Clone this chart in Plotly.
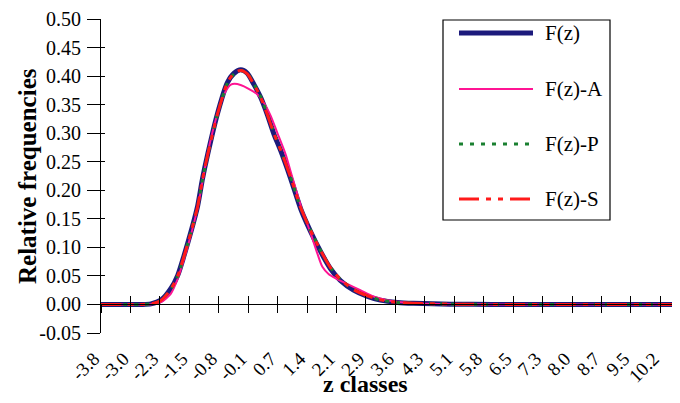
import plotly.graph_objects as go

# ---------------- data ----------------
TICK_LABELS = ["-3.8", "-3.0", "-2.3", "-1.5", "-0.8", "-0.1", "0.7", "1.4", "2.1", "2.9",
               "3.6", "4.3", "5.1", "5.8", "6.5", "7.3", "8.0", "8.7", "9.5", "10.2"]
Y_TICKS = [-0.05, 0.00, 0.05, 0.10, 0.15, 0.20, 0.25, 0.30, 0.35, 0.40, 0.45, 0.50]
Y_TICK_LABELS = ["-0.05", "0.00", "0.05", "0.10", "0.15", "0.20", "0.25", "0.30",
                 "0.35", "0.40", "0.45", "0.50"]

Z_F = [-3.8, -2.8, -2.55, -2.3, -2.05, -1.88, -1.72, -1.55, -1.38, -1.26, -1.13, -0.89,
       -0.64, -0.47, -0.30, -0.14, 0.03, 0.20, 0.36, 0.53, 0.70, 0.95, 1.20, 1.45, 1.70,
       1.94, 2.19, 2.52, 2.87, 3.19, 3.62, 4.02, 4.94, 6.0, 8.0, 10.7]
F = [0.0, 0.0, 0.001, 0.0075, 0.028, 0.051, 0.086, 0.127, 0.173, 0.22, 0.263, 0.333,
     0.388, 0.405, 0.411, 0.405, 0.385, 0.362, 0.333, 0.298, 0.269, 0.22, 0.167, 0.127, 0.092,
     0.063, 0.042, 0.025, 0.014, 0.0075, 0.0035, 0.002, 0.0005, 0.0, 0.0, 0.0]

Z_A = [-3.8, -2.8, -2.55, -2.3, -2.05, -1.88, -1.72, -1.55, -1.38, -1.26, -1.13, -0.89,
       -0.72, -0.55, -0.39, -0.14, 0.11, 0.28, 0.45, 0.61, 0.82, 0.95, 1.20, 1.45, 1.62,
       1.74, 1.90, 2.10, 2.36, 2.69, 3.02, 3.37, 4.02, 4.94, 6.0, 8.0, 10.7]
F_A = [0.0, 0.0, 0.0005, 0.004, 0.019, 0.045, 0.08, 0.122, 0.17, 0.215, 0.265, 0.333,
       0.368, 0.385, 0.386, 0.379, 0.368, 0.353, 0.33, 0.301, 0.263, 0.232, 0.173, 0.124, 0.088,
       0.066, 0.053, 0.045, 0.036, 0.025, 0.014, 0.0075, 0.002, 0.0005, 0.0, 0.0, 0.0]

Z_P = Z_F
F_P = [0.0, 0.0, 0.001, 0.007, 0.027, 0.050, 0.085, 0.126, 0.172, 0.219, 0.262, 0.332,
       0.387, 0.404, 0.410, 0.405, 0.386, 0.363, 0.334, 0.300, 0.270, 0.222, 0.169, 0.129, 0.094,
       0.065, 0.044, 0.026, 0.015, 0.008, 0.0035, 0.002, 0.0005, 0.0, 0.0, 0.0]

Z_S = Z_F
F_S = [0.0, 0.0, 0.001, 0.007, 0.027, 0.050, 0.085, 0.126, 0.172, 0.219, 0.262, 0.332,
       0.388, 0.405, 0.410, 0.404, 0.385, 0.362, 0.333, 0.299, 0.270, 0.222, 0.169, 0.129, 0.094,
       0.065, 0.044, 0.026, 0.015, 0.008, 0.0035, 0.002, 0.0005, 0.0, 0.0, 0.0]

SERIES_NAMES = ["F(z)", "F(z)-A", "F(z)-P", "F(z)-S"]

# ---------------- styling ----------------
WIN_W, WIN_H = 680, 403
OFF = 8                                  # default page body margin
W, H = WIN_W - OFF, WIN_H - OFF
L, R, T, B = 101, 680, 19, 333          # data area in window pixels
SHIFT = 7                                # x labels sit this many px left of their ticks
PL = L - SHIFT                           # left edge of the whole plotting area
FONT = "Liberation Serif, Times New Roman, serif"
COLORS = ["#1c1a7c", "#ff1493", "#1a8030", "#ff1a1a"]
WIDTHS = [5, 2, 3, 3]
DASHES = ["solid", "solid", "4px,7px", "20px,7px,5px,7px,5px,7px"]

X_MIN, X_MAX = -3.8, 10.69
Y_MIN, Y_MAX = -0.05, 0.50
n = len(TICK_LABELS)
tickvals = [-3.8 + k * (10.2 - (-3.8)) / (n - 1) for k in range(n)]
d0 = SHIFT / (R - PL)

def px(x):
    return (x - PL) / (R - PL)

def py(y):
    return (B - y) / (B - T)

fig = go.Figure()
for zs, ys, name, c, w, d in zip([Z_F, Z_A, Z_P, Z_S], [F, F_A, F_P, F_S],
                                 SERIES_NAMES, COLORS, WIDTHS, DASHES):
    fig.add_trace(go.Scatter(x=zs, y=ys, name=name, mode="lines", xaxis="x", yaxis="y",
                             line=dict(color=c, width=w, dash=d, shape="spline", smoothing=0.7),
                             showlegend=False))

zero_pos = (0 - Y_MIN) / (Y_MAX - Y_MIN)
common = dict(range=[X_MIN, X_MAX], tickmode="array", showgrid=False, zeroline=False,
              automargin=False)

fig.update_layout(
    width=W, height=H,
    margin=dict(l=PL - OFF, r=WIN_W - R, t=T - OFF, b=WIN_H - B, pad=0),
    paper_bgcolor="white", plot_bgcolor="rgba(0,0,0,0)",
    font=dict(family=FONT, size=18, color="black"),
    xaxis=dict(domain=[d0, 1], anchor="y", tickvals=tickvals, showticklabels=False, ticks="",
               showline=False, **common),
    xaxis2=dict(overlaying="x", anchor="free", position=zero_pos, tickvals=tickvals,
                showticklabels=False, ticks="outside", ticklen=8, tickcolor="black",
                tickwidth=1, showline=True, linecolor="black", linewidth=1, **common),
    xaxis3=dict(overlaying="x", anchor="free", position=zero_pos, tickvals=tickvals,
                showticklabels=False, ticks="inside", ticklen=8, tickcolor="black",
                tickwidth=1, showline=False, **common),
    xaxis4=dict(domain=[0, 1 - d0], anchor="y", tickvals=tickvals, ticktext=TICK_LABELS,
                tickangle=-45, ticks="", showline=False,
                tickfont=dict(family=FONT, size=19), ticklabelstandoff=10, **common),
    yaxis=dict(range=[Y_MIN, Y_MAX], anchor="x", tickmode="array", tickvals=Y_TICKS,
               ticktext=Y_TICK_LABELS, ticks="outside", ticklen=13, tickcolor="black",
               showline=True, linecolor="black", linewidth=1, showgrid=False, zeroline=False,
               tickfont=dict(family=FONT, size=20), ticklabelstandoff=2, automargin=False),
    yaxis2=dict(range=[Y_MIN, Y_MAX], overlaying="y", anchor="x", side="left",
                tickmode="array", tickvals=Y_TICKS, showticklabels=False, ticks="inside",
                ticklen=4, tickcolor="black", showline=False, showgrid=False, zeroline=False,
                automargin=False),
)
# helper traces (no visible points) so the extra axes are drawn
for xa, ya in [("x2", "y"), ("x3", "y"), ("x", "y2"), ("x4", "y")]:
    fig.add_trace(go.Scatter(x=[X_MIN], y=[None], xaxis=xa, yaxis=ya,
                             showlegend=False, hoverinfo="skip"))

annotations = [
    dict(text="<b>z classes</b>", x=px(365), y=py(384), xref="paper", yref="paper",
         showarrow=False, font=dict(family=FONT, size=24), xanchor="center", yanchor="middle"),
    dict(text="<b>Relative frequencies</b>", x=px(27), y=py(176), xref="paper", yref="paper",
         showarrow=False, textangle=-90, font=dict(family=FONT, size=25),
         xanchor="center", yanchor="middle"),
]
shapes = [dict(type="rect", xref="paper", yref="paper", x0=px(443), x1=px(610),
               y0=py(220), y1=py(20), line=dict(color="black", width=1.2),
               fillcolor="white", layer="above")]
legend_y = [33, 89, 144, 199]
for name, c, w, d, ly in zip(SERIES_NAMES, COLORS, WIDTHS, DASHES, legend_y):
    shapes.append(dict(type="line", xref="paper", yref="paper", x0=px(459), x1=px(533),
                       y0=py(ly), y1=py(ly), line=dict(color=c, width=w, dash=d), layer="above"))
    annotations.append(dict(text=name, x=px(543), y=py(ly), xref="paper", yref="paper",
                            showarrow=False, xanchor="left", yanchor="middle",
                            font=dict(family=FONT, size=21)))
fig.update_layout(shapes=shapes, annotations=annotations)

fig.write_html("out.html")
